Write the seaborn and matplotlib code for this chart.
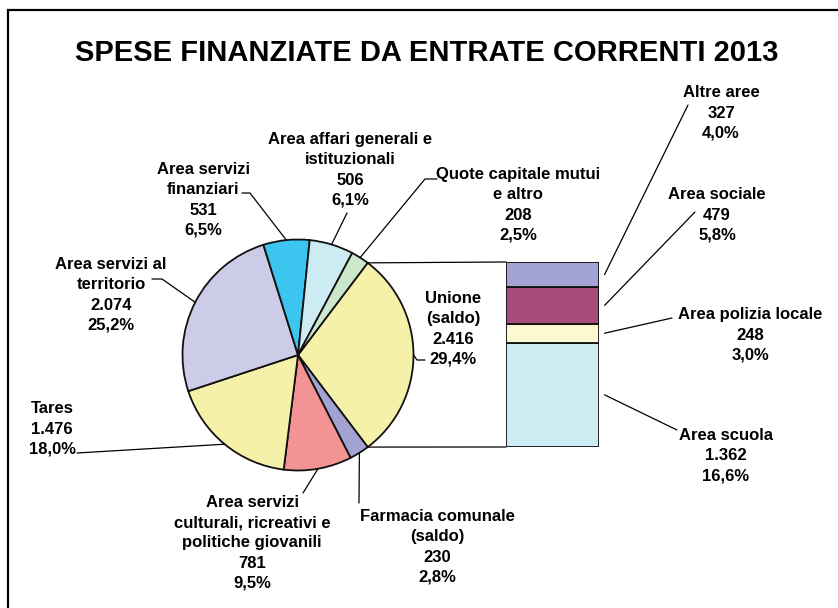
import math
import seaborn as sns
import matplotlib.pyplot as plt
from matplotlib.patches import ConnectionPatch, Rectangle

# --- DATA ---
pie_labels = [
    "Unione\n(saldo)",
    "Farmacia comunale\n(saldo)",
    "Area servizi\nculturali, ricreativi e\npolitiche giovanili",
    "Tares",
    "Area servizi al\nterritorio",
    "Area servizi\nfinanziari",
    "Area affari generali e\nistituzionali",
    "Quote capitale mutui\ne altro",
]
pie_values = [2416, 230, 781, 1476, 2074, 531, 506, 208]
pie_pcts = [29.4, 2.8, 9.5, 18.0, 25.2, 6.5, 6.1, 2.5]
pie_colors = ["#F6F1A9", "#A3A3D3", "#F39393", "#F6F1A9",
              "#CCCCE8", "#3CC5EF", "#CDEBF3", "#CDE7CD"]

# breakdown of "Unione", stacked from the bottom
bar_labels = ["Area scuola", "Area polizia locale", "Area sociale", "Altre aree"]
bar_values = [1362, 248, 479, 327]
bar_pcts = [16.6, 3.0, 5.8, 4.0]
bar_colors = ["#CDEBF3", "#FCF8D2", "#A64D7E", "#A3A3D3"]

title = "SPESE FINANZIATE DA ENTRATE CORRENTI 2013"

# --- LAYOUT (pixels, measured from the top-left corner) ---
W, H = 838, 608
# text centre x, text centre y, leader start x, leader start y, arm, arm angle
pie_layout = [
    (453, 329, 425, 360, 8, 180),
    (437, 547, 359, 503, 0, 0),
    (252, 543, 303, 493, 0, 0),
    (52, 429, 77, 453, 0, 0),
    (111, 295, 152, 279, 10, 0),
    (203, 200, 242, 193, 8, 0),
    (350, 170, 347, 213, 0, 0),
    (518, 205, 437, 179, 12, 180),
]
bar_layout = [
    (726, 456, 677, 430),
    (750, 335, 672, 318),
    (717, 215, 695, 212),
    (721, 113, 688, 105),
]
pie_cx, pie_cy, pie_r = 298, 355, 115.5
bar_x0, bar_x1, bar_top, bar_bottom = 506, 599, 262, 447


def fmt_num(v):
    return f"{v:,}".replace(",", ".")


def fmt_pct(p):
    return f"{p:.1f}".replace(".", ",") + "%"


# --- THEME ---
sns.set_theme(style="white")
plt.rcParams["font.family"] = ["Liberation Sans", "DejaVu Sans"]
text_kw = dict(ha="center", va="center", fontsize=12, fontweight="bold",
               linespacing=1.42, multialignment="center", color="black")
line_kw = dict(arrowstyle="-", color="black", lw=0.9, shrinkA=0, shrinkB=0)

fig = plt.figure(figsize=(W / 100, H / 100), dpi=100)

# --- PIE ---
side = 2.5 * pie_r
ax_pie = fig.add_axes([(pie_cx - side / 2) / W, (H - pie_cy - side / 2) / H,
                       side / W, side / H])
start = 360 * pie_pcts[0] / 100 / 2
wedges, _ = ax_pie.pie(pie_values, colors=pie_colors, startangle=start,
                       counterclock=False, radius=1,
                       wedgeprops=dict(edgecolor="#111111", linewidth=1.3))
ax_pie.set_xlim(-1.25, 1.25)
ax_pie.set_ylim(-1.25, 1.25)
ax_pie.set_aspect("equal")
ax_pie.axis("off")

# --- BAR OF PIE ---
ax_bar = fig.add_axes([bar_x0 / W, (H - bar_bottom) / H,
                       (bar_x1 - bar_x0) / W, (bar_bottom - bar_top) / H])
bottom = 0
bar_mids = []
for val, col in zip(bar_values, bar_colors):
    ax_bar.bar(0, val, bottom=bottom, width=1, color=col,
               edgecolor="#111111", linewidth=1.3)
    bar_mids.append(bottom + val / 2)
    bottom += val
ax_bar.set_xlim(-0.5, 0.5)
ax_bar.set_ylim(0, sum(bar_values))
ax_bar.axis("off")

# connection lines between the "Unione" wedge and the bar
w0 = wedges[0]
for ang, yb in [(w0.theta2, sum(bar_values)), (w0.theta1, 0)]:
    a = math.radians(ang)
    con = ConnectionPatch(xyA=(math.cos(a), math.sin(a)), coordsA=ax_pie.transData,
                          xyB=(-0.5, yb), coordsB=ax_bar.transData,
                          color="black", lw=0.9)
    fig.add_artist(con)

# --- PIE LABELS ---
for w, lab, val, pct, lay in zip(wedges, pie_labels, pie_values, pie_pcts, pie_layout):
    tx, ty, lx, ly, arm, arm_ang = lay
    fig.text(tx / W, 1 - ty / H, f"{lab}\n{fmt_num(val)}\n{fmt_pct(pct)}", **text_kw)
    mid = math.radians((w.theta1 + w.theta2) / 2)
    if arm:
        cs = f"arc,angleA={arm_ang},armA={arm},angleB=0,armB=0,rad=0"
    else:
        cs = "arc3,rad=0"
    ax_pie.annotate("", xy=(math.cos(mid), math.sin(mid)), xycoords="data",
                    xytext=(lx, H - ly), textcoords="figure pixels",
                    arrowprops=dict(connectionstyle=cs, **line_kw),
                    annotation_clip=False)

# --- BAR LABELS ---
for lab, val, pct, ym, lay in zip(bar_labels, bar_values, bar_pcts, bar_mids, bar_layout):
    tx, ty, lx, ly = lay
    fig.text(tx / W, 1 - ty / H, f"{lab}\n{fmt_num(val)}\n{fmt_pct(pct)}", **text_kw)
    ax_bar.annotate("", xy=(0.56, ym), xycoords="data",
                    xytext=(lx, H - ly), textcoords="figure pixels",
                    arrowprops=dict(line_kw), annotation_clip=False)

# --- TITLE & FRAME ---
fig.text(427 / W, 1 - 61 / H, title, ha="center", va="baseline",
         fontsize=21, fontweight="bold", color="black")
fig.add_artist(Rectangle((7.5 / W, -0.1), 1.2, 1.1 - 10 / H, transform=fig.transFigure,
                         fill=False, edgecolor="black", linewidth=1.6))

plt.savefig("out.png", dpi=100)
